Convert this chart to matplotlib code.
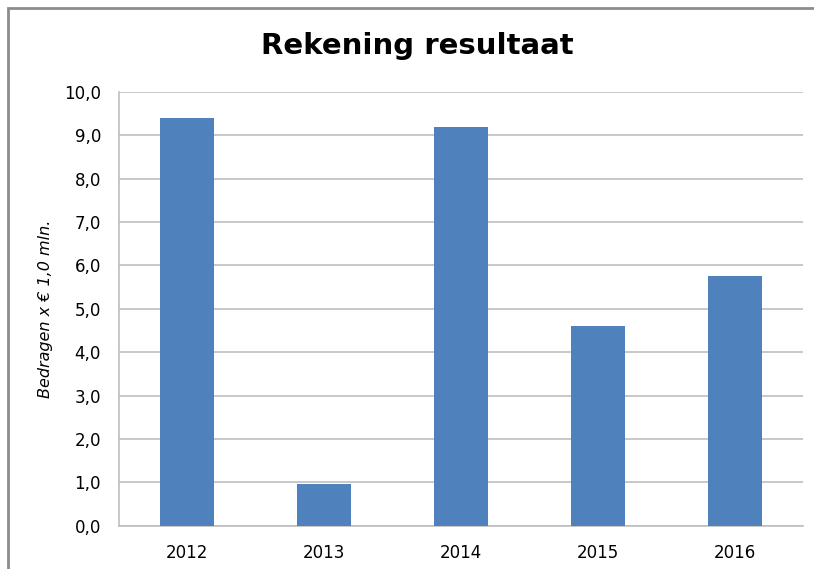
import matplotlib.pyplot as plt
from matplotlib.patches import Rectangle
from matplotlib.ticker import FuncFormatter
import numpy as np

years = ["2012", "2013", "2014", "2015", "2016"]
values = [9.40, 0.96, 9.19, 4.60, 5.76]
yticks = [0, 1, 2, 3, 4, 5, 6, 7, 8, 9, 10]

W, H = 814, 569
fig = plt.figure(figsize=(W / 100, H / 100), dpi=100)
# plot area in pixels: left 119, right 803, top 92, bottom 525.6
ax = fig.add_axes([119 / W, 1 - 525.6 / H, (803 - 119) / W, (525.6 - 92) / H])

# outer chart frame (right and bottom edges run off the picture)
fig.patches.append(Rectangle((8 / W, -0.2), 1.2, 1 - 8 / H + 0.2,
                             transform=fig.transFigure, fill=False,
                             edgecolor="#8c8c8c", lw=2))

x = np.arange(len(years))
ax.bar(x, values, width=0.395, color="#4F81BD", zorder=3)

ax.set_xlim(-0.5, len(years) - 0.5)
ax.set_ylim(0, 10)
ax.set_yticks(yticks)
ax.yaxis.set_major_formatter(FuncFormatter(lambda v, p: f"{v:.1f}".replace(".", ",")))
ax.set_xticks(x)
ax.set_xticklabels(years)
ax.grid(axis="y", color="#bfbfbf", lw=1.2, zorder=0)

for s in ["top", "right"]:
    ax.spines[s].set_visible(False)
for s in ["left", "bottom"]:
    ax.spines[s].set_color("#bfbfbf")
    ax.spines[s].set_linewidth(1.2)

ax.tick_params(axis="y", length=0, pad=13, labelsize=12)
ax.tick_params(axis="x", length=0, pad=13, labelsize=12)

ax.set_ylabel("Bedragen x € 1,0 mln.", fontstyle="italic", fontsize=11.5, labelpad=8)
fig.text(417 / W, 1 - 46 / H, "Rekening resultaat", ha="center", va="center",
         fontsize=21, fontweight="bold")

fig.savefig("out.png", dpi=100)
